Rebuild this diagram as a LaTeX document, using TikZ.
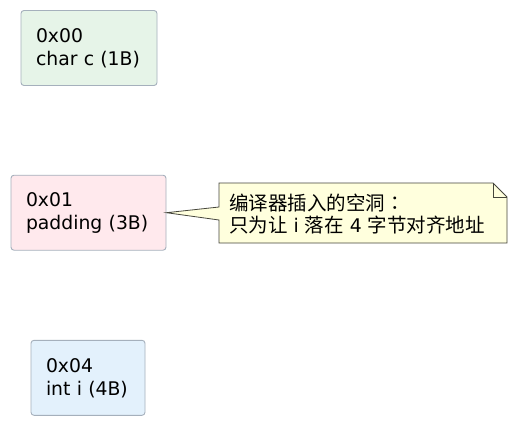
\documentclass[tikz,border=0pt]{standalone}
\usepackage{fontspec}
\setmainfont{DejaVu Sans}
\newfontfamily\cjk{Noto Sans CJK SC}
\newfontfamily\cjktc{Noto Sans CJK TC}
\definecolor{boxline}{RGB}{165,176,188}
\definecolor{greenfill}{RGB}{230,244,232}
\definecolor{pinkfill}{RGB}{255,233,237}
\definecolor{bluefill}{RGB}{227,241,252}
\definecolor{notefill}{RGB}{255,255,221}
\definecolor{noteline}{RGB}{70,70,60}
\begin{document}
\begin{tikzpicture}[x=1pt,y=-1pt,
  membox/.style={draw=boxline, line width=0.9pt, rounded corners=3pt, minimum height=75pt,
    inner xsep=15pt, inner ysep=0pt, align=left,
    font=\fontsize{18.8}{23}\selectfont},
  notetext/.style={inner sep=0pt, align=left, anchor=west,
    font=\fontsize{18.8}{22.5}\selectfont}]
\useasboundingbox (0,0) rectangle (516,423);
\fill[white] (0,0) rectangle (516,423);
\node[membox, fill=greenfill, text width=106pt] (b1) at (89,48) {0x00\\char c (1B)};
\node[membox, fill=pinkfill, text width=125pt] (b2) at (88.5,212.7) {0x01\\padding (3B)};
\node[membox, fill=bluefill, text width=84pt] (b3) at (88,377.8) {0x04\\int i (4B)};
% note
\coordinate (n1) at (219,183);
\coordinate (n2) at (493,183);
\coordinate (n3) at (507,197);
\coordinate (n4) at (507,243);
\coordinate (n5) at (219,243);
\coordinate (p1) at (219,207);
\coordinate (p2) at (219,220);
\draw[noteline, fill=notefill, line width=0.8pt, line join=miter]
  (n1) -- (n2) -- (n3) -- (n4) -- (n5) -- (p2) -- (b2.east) -- (p1) -- cycle;
\draw[noteline, line width=0.8pt] (n2) -- (493,197) -- (n3);
\node[notetext] (nt) at (229,214) {{\cjk\fontsize{19.5}{22.5}\selectfont 编译器插入的空洞{\cjktc ：}}\\{\cjk\fontsize{19.5}{22.5}\selectfont 只为让} i {\cjk\fontsize{19.5}{22.5}\selectfont 落在} 4 {\cjk\fontsize{19.5}{22.5}\selectfont 字节对齐地址}};
\end{tikzpicture}
\end{document}
